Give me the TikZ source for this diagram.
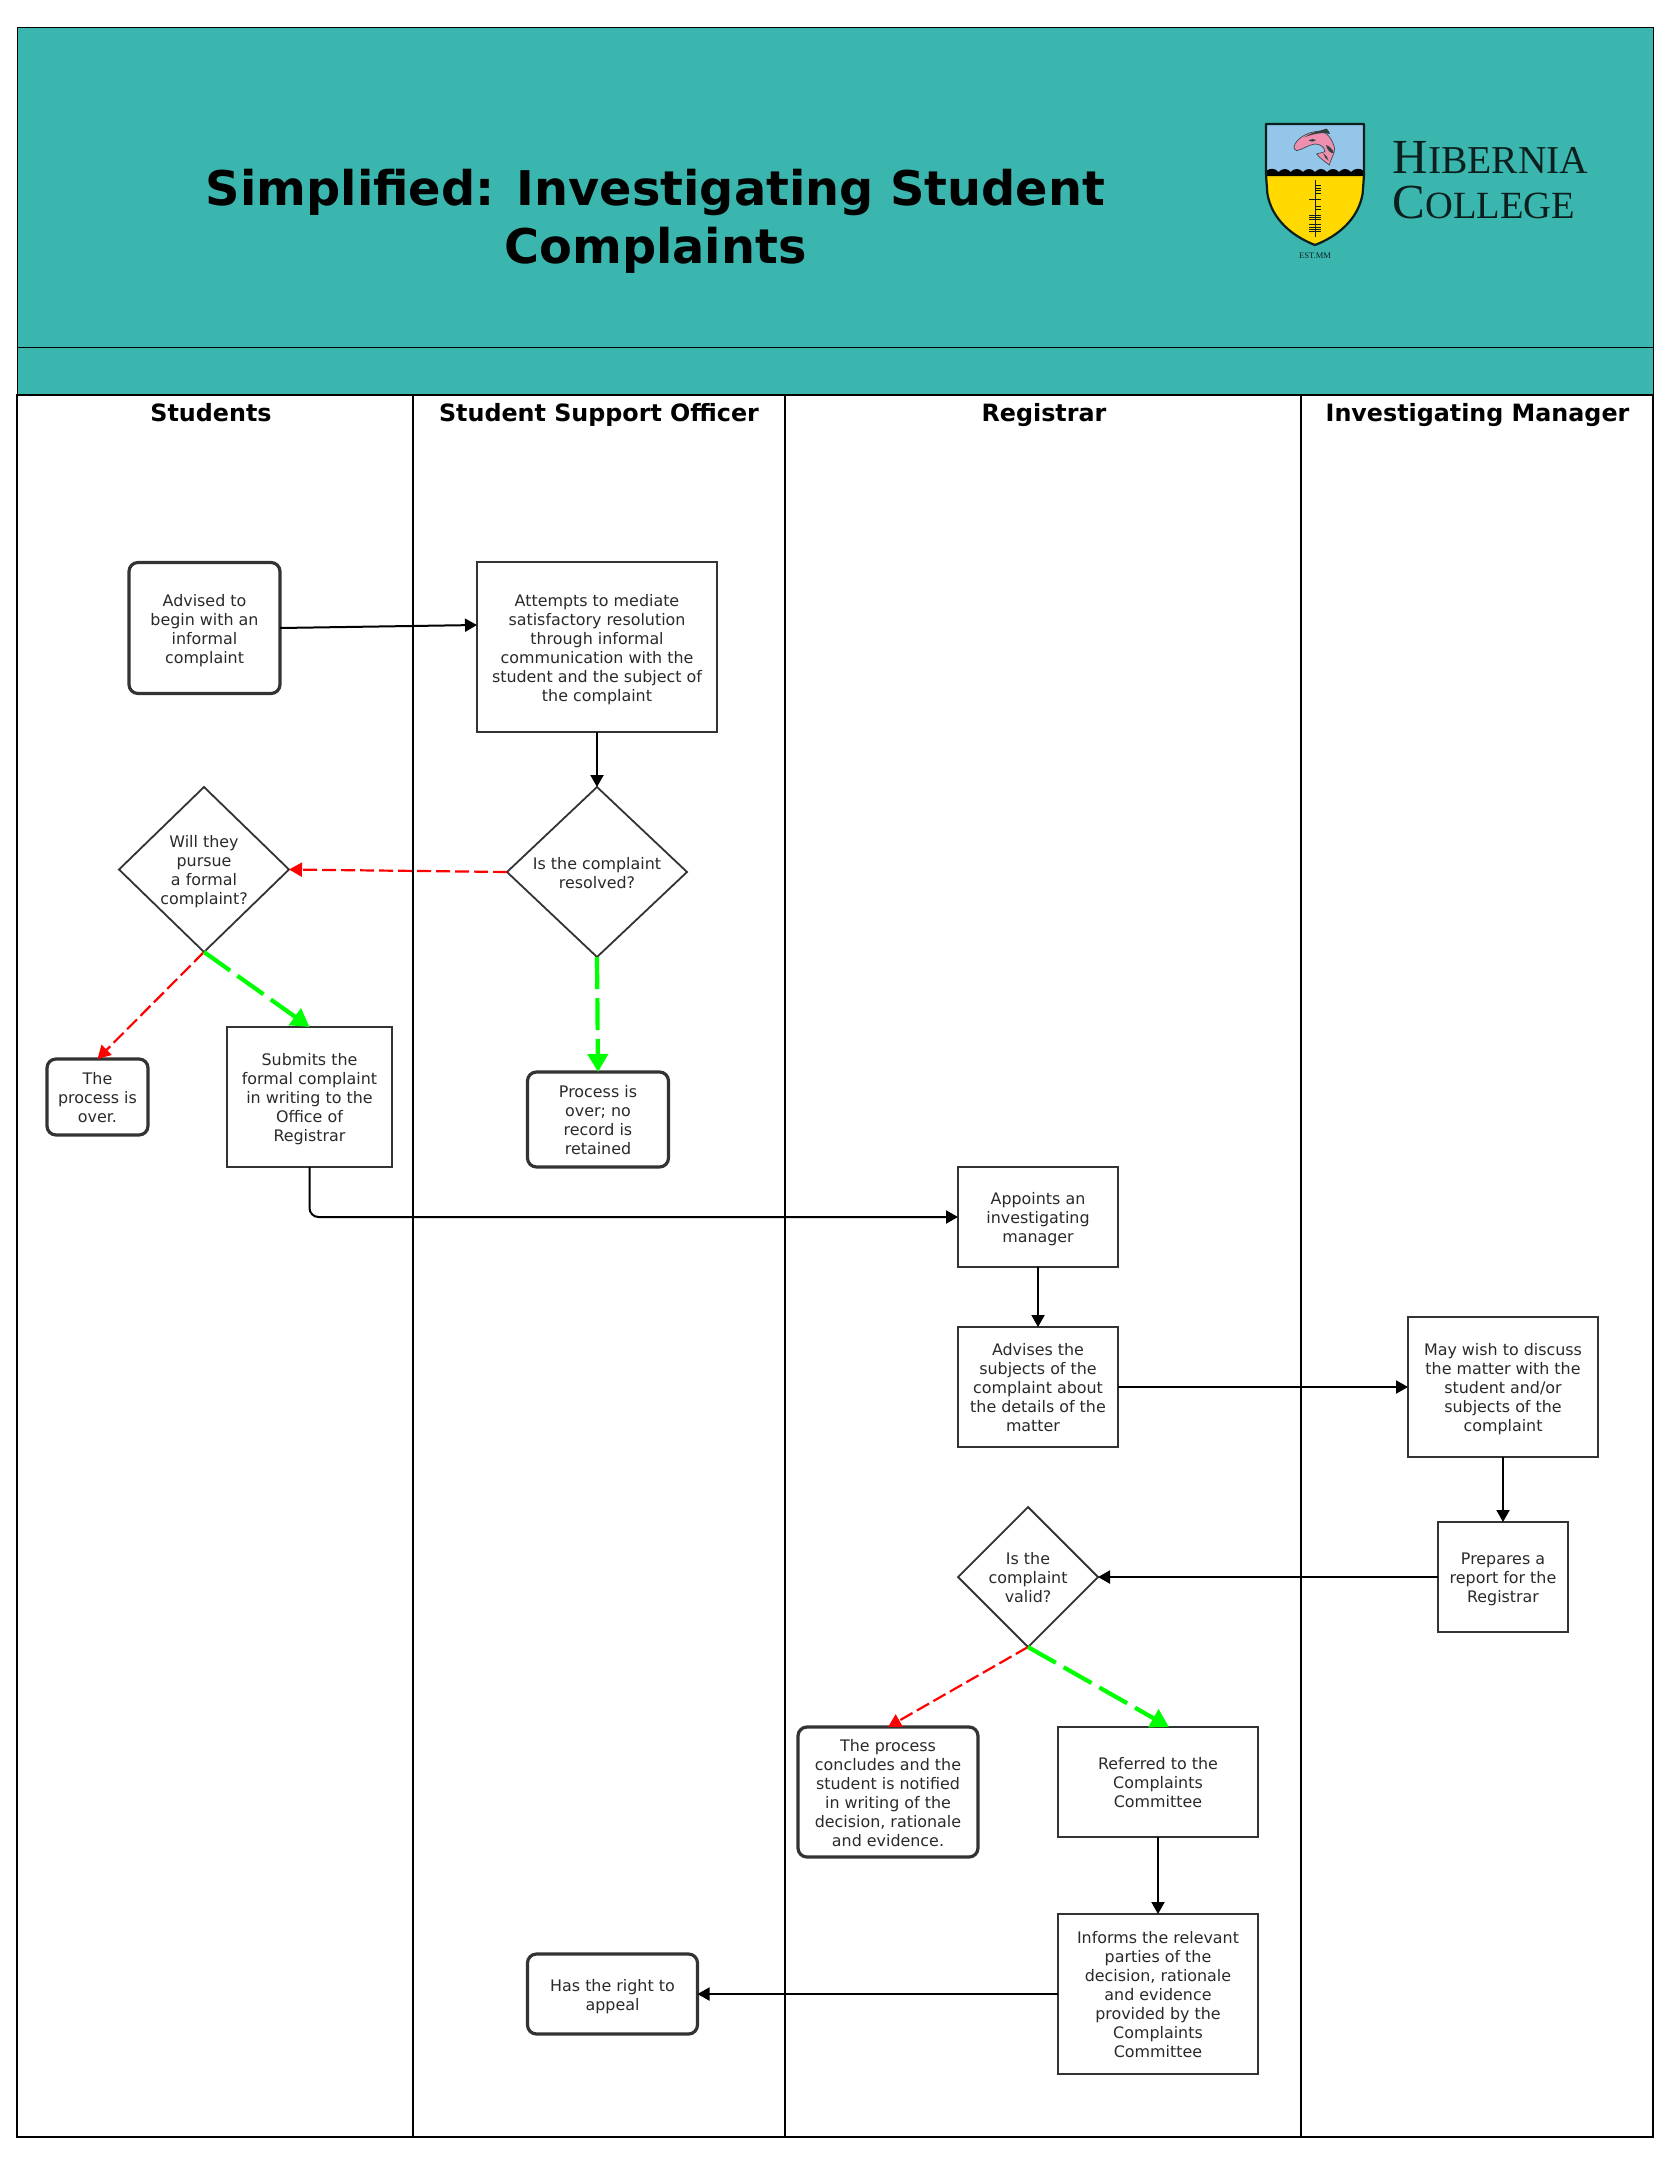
\documentclass[tikz,border=0pt]{standalone}
\usepackage{fontspec}
\setmainfont{DejaVu Sans}
\newfontfamily\logofont{Liberation Serif}
\usetikzlibrary{shapes.geometric,arrows.meta}
\definecolor{teal0}{HTML}{3BB6AE}
\definecolor{ink}{HTML}{333333}
\definecolor{txt}{HTML}{2A2A2A}
\definecolor{gogreen}{HTML}{00FF00}
\definecolor{nored}{HTML}{FF0000}
\definecolor{skyb}{HTML}{93C6E8}
\definecolor{shieldy}{HTML}{FFD900}
\definecolor{fishp}{HTML}{EE8FB0}
\definecolor{logok}{HTML}{0B1F1E}
\newcommand\boxlines[1]{\rule{0pt}{17pt}#1\rule[-4pt]{0pt}{4pt}}
\tikzset{
  x=1pt,y=-1pt,
  every node/.style={outer sep=0pt},
  bodytext/.style={font=\fontsize{15.9}{19}\selectfont,text=txt,align=center,inner sep=0pt},
  procbox/.style={bodytext,draw=ink,line width=2pt,fill=white,rectangle},
  termbox/.style={bodytext,draw=ink,line width=3.2pt,fill=white,rectangle,rounded corners=9pt},
  decbox/.style={bodytext,draw=ink,line width=1.8pt,fill=white,diamond,aspect=1,inner xsep=-8pt},
  lanetitle/.style={font=\fontsize{23.8}{28}\bfseries\selectfont,text=black,inner sep=0pt,anchor=base},
  flow/.style={draw=black,line width=2pt,-{Triangle[length=12pt,width=13pt]}},
  yesflow/.style={draw=gogreen,line width=4.2pt,dash pattern=on 32pt off 9pt,-{Triangle[length=18pt,width=20pt]}},
  noflow/.style={draw=nored,line width=2.2pt,dash pattern=on 14pt off 5pt,-{Triangle[length=13pt,width=14pt]}},
  lane/.style={draw=black,line width=2.4pt},
}
\begin{document}
\begin{tikzpicture}
\useasboundingbox (0,0) rectangle (1674,2157);
\fill[white] (0,0) rectangle (1674,2157);
% header
\fill[teal0] (17,28) rectangle (1653,395);
\draw[black,line width=1pt] (17,28) rectangle (1653,395);
\draw[black,line width=1pt] (17,347) -- (1653,347);
% lanes
\coordinate (tl) at (17,395);
\coordinate (br) at (1653,2137);
\draw[lane] (tl) rectangle (br);
\draw[lane] (413,395) -- (413,2137);
\draw[lane] (785,395) -- (785,2137);
\draw[lane] (1301,395) -- (1301,2137);
% title
\node[font=\fontsize{47.8}{58}\bfseries\selectfont,text=black,align=center,inner sep=0pt] (title) at (655.5,221.5) {Simplified: Investigating Student\\Complaints};
\node[lanetitle] (l1) at (211,421) {Students};
\node[lanetitle] (l2) at (599,421) {Student Support Officer};
\node[lanetitle] (l3) at (1044,421) {Registrar};
\node[lanetitle] (l4) at (1477.5,421) {Investigating Manager};
% logo
\begin{scope}[shift={(1230,100)},x=0.33333pt,y=-0.33333pt]
  \path[fill=skyb] (108,72) -- (402,72) -- (402,225) -- (108,225) -- cycle;
  \path[fill=shieldy] (110,225) -- (400,225) -- (398,280) .. controls (385,360) and (320,410) .. (255,435) .. controls (190,410) and (125,360) .. (112,280) -- cycle;
  \path[fill=black] (110,228) -- (110,212) .. controls (120,204) and (135,204) .. (146,216)
     .. controls (157,204) and (172,204) .. (182,216) .. controls (193,204) and (208,204) .. (219,216)
     .. controls (230,204) and (244,204) .. (255,216) .. controls (266,204) and (280,204) .. (291,216)
     .. controls (302,204) and (316,204) .. (327,216) .. controls (338,204) and (352,204) .. (363,216)
     .. controls (374,204) and (390,204) .. (400,212) -- (400,228) -- cycle;
  \draw[logok,line width=2.2pt,line join=round] (108,72) -- (402,72) -- (402,225) -- (398,280) .. controls (385,360) and (320,410) .. (255,435) .. controls (190,410) and (125,360) .. (112,280) -- (108,225) -- cycle;
  % ogham
  \draw[logok,line width=1pt] (255,240) -- (255,412);
  \foreach \yy in {256,264,272,280} \draw[logok,line width=0.8pt] (255,\yy) -- (272,\yy);
  \draw[logok,line width=0.8pt] (238,298) -- (272,298);
  \foreach \yy in {320,328} \draw[logok,line width=0.8pt] (255,\yy) -- (272,\yy);
  \foreach \yy in {346,352,358} \draw[logok,line width=0.8pt] (238,\yy) -- (272,\yy);
  \foreach \yy in {374,381,388,395} \draw[logok,line width=0.8pt] (238,\yy) -- (272,\yy);
  % fish
  \path[fill=fishp,draw=logok!80,line width=0.7pt] (192,140) .. controls (198,118) and (225,100) .. (255,95)
     .. controls (285,88) and (305,110) .. (314,145) .. controls (313,165) and (303,175) .. (298,195)
     .. controls (285,185) and (270,175) .. (260,162) .. controls (270,158) and (280,158) .. (285,155)
     .. controls (283,140) and (270,132) .. (255,132) .. controls (235,134) and (220,148) .. (200,152)
     .. controls (194,150) and (192,146) .. (192,140) -- cycle;
  \path[fill=logok!85] (222,112) .. controls (240,100) and (262,94) .. (290,86) .. controls (296,92) and (298,96) .. (300,102) .. controls (280,96) and (255,100) .. (222,112) -- cycle;
  \path[fill=logok!85] (236,122) .. controls (245,116) and (252,116) .. (258,120) .. controls (250,126) and (242,126) .. (236,122) -- cycle;
  \path[fill=logok!85] (288,135) .. controls (298,138) and (306,146) .. (312,158) .. controls (302,162) and (292,152) .. (288,135) -- cycle;
  \path[fill=logok!85] (280,160) .. controls (288,164) and (292,172) .. (296,182) .. controls (288,178) and (282,170) .. (280,160) -- cycle;
  \node[font=\logofont\fontsize{8.5}{10}\selectfont,text=logok,inner sep=0pt] (est) at (255,466) {EST.MM};
  \node[font=\logofont\fontsize{49}{50}\selectfont,text=logok,anchor=base west,inner sep=0pt] (hib) at (488,219) {H{\fontsize{39.5}{40}\selectfont IBERNIA}};
  \node[font=\logofont\fontsize{49}{50}\selectfont,text=logok,anchor=base west,inner sep=0pt] (col) at (488,354) {C{\fontsize{38.5}{40}\selectfont OLLEGE}};
\end{scope}
% process nodes
\node[termbox,minimum width=151pt,minimum height=131pt] (A) at (204.5,628) {\boxlines{Advised to\\begin with an\\informal\\complaint}};
\node[procbox,minimum width=240pt,minimum height=170pt] (B) at (597,647) {\boxlines{Attempts to mediate\\satisfactory resolution\\through informal\\communication with the\\student and the subject of\\the complaint}};
\node[decbox,minimum width=180pt,minimum height=170pt] (C) at (597,872) {\boxlines{Is the complaint\\resolved?}};
\node[decbox,minimum width=170pt,minimum height=165pt] (D) at (204,869.5) {\boxlines{Will they\\pursue\\a formal\\complaint?}};
\node[termbox,minimum width=101pt,minimum height=76pt] (E) at (97.5,1097) {\boxlines{The\\process is\\over.}};
\node[procbox,minimum width=165pt,minimum height=140pt] (F) at (309.5,1097) {\boxlines{Submits the\\formal complaint\\in writing to the\\Office of\\Registrar}};
\node[termbox,minimum width=141pt,minimum height=95pt] (G) at (598,1119.5) {\boxlines{Process is\\over; no\\record is\\retained}};
\node[procbox,minimum width=160pt,minimum height=100pt] (H) at (1038,1217) {\boxlines{Appoints an\\investigating\\manager}};
\node[procbox,minimum width=160pt,minimum height=120pt] (I) at (1038,1387) {\boxlines{Advises the\\subjects of the\\complaint about\\the details of the\\matter\hspace*{10pt}}};
\node[procbox,minimum width=190pt,minimum height=140pt] (J) at (1503,1387) {\boxlines{May wish to discuss\\the matter with the\\student and/or\\subjects of the\\complaint}};
\node[procbox,minimum width=130pt,minimum height=110pt] (K) at (1503,1577) {\boxlines{Prepares a\\report for the\\Registrar}};
\node[decbox,minimum width=140pt,minimum height=140pt] (L) at (1028,1577) {\boxlines{Is the\\complaint\\valid?}};
\node[termbox,minimum width=180pt,minimum height=130pt] (M) at (888,1792) {\boxlines{The process\\concludes and the\\student is notified\\in writing of the\\decision, rationale\\and evidence.}};
\node[procbox,minimum width=200pt,minimum height=110pt] (N) at (1158,1782) {\boxlines{Referred to the\\Complaints\\Committee}};
\node[procbox,minimum width=200pt,minimum height=160pt] (O) at (1158,1994) {\boxlines{Informs the relevant\\parties of the\\decision, rationale\\and evidence\\provided by the\\Complaints\\Committee}};
\node[termbox,minimum width=170pt,minimum height=80pt] (P) at (612.5,1994) {\boxlines{Has the right to\\appeal}};
% connectors
\draw[flow] (A.east) -- ([yshift=22pt]B.west);
\draw[flow] (B.south) -- (C.north);
\draw[noflow] (C.west) -- (D.east);
\draw[yesflow] (C.south) -- (G.north);
\draw[noflow] (D.south) -- (E.north);
\draw[yesflow] (D.south) -- (F.north);
\draw[flow,rounded corners=9pt] (F.south) |- (H.west);
\draw[flow] (H.south) -- (I.north);
\draw[flow] (I.east) -- (J.west);
\draw[flow] (J.south) -- (K.north);
\draw[flow] (K.west) -- (L.east);
\draw[noflow] (L.south) -- (M.north);
\draw[yesflow] (L.south) -- ([xshift=11pt]N.north);
\draw[flow] (N.south) -- (O.north);
\draw[flow] (O.west) -- (P.east);
\end{tikzpicture}
\end{document}
